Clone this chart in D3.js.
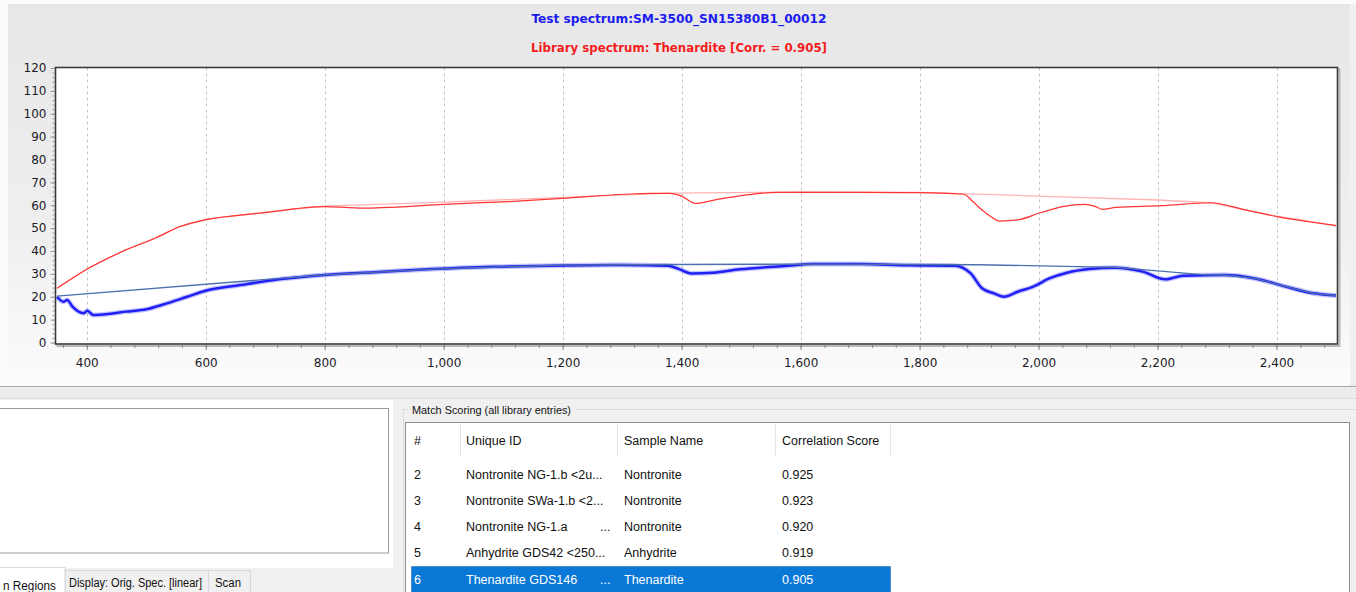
<!DOCTYPE html>
<html>
<head>
<meta charset="utf-8">
<script src="https://cdn.jsdelivr.net/npm/d3@7/dist/d3.min.js"></script>
<style>
  html, body { margin: 0; padding: 0; background: #f0f0f0; }
  svg { display: block; }
</style>
</head>
<body>
<svg id="chart" width="1356" height="592"></svg>
<script>
// ---------- DATA ----------
const titleTest = "Test spectrum:SM-3500_SN15380B1_00012";
const titleLib = "Library spectrum: Thenardite [Corr. = 0.905]";

// test spectrum (blue, thick)
const testX = [350,361,367,376,395,401,411,440,466,500,530,569,601,658,723,800,884,981,1085,1207,1300,1376,1395,1416,1453,1498,1573,1620,1700,1780,1859,1886,1905,1925,1942,1965,1991,2018,2048,2085,2128,2175,2213,2243,2311,2364,2416,2462,2500];
const testY = [20,17.8,18.6,15.7,12.8,13.9,12,12.6,13.5,14.5,16.7,20,22.7,25.1,27.6,29.5,30.7,32.1,33.1,33.7,33.9,33.6,32.2,30.2,30.5,32,33.4,34.3,34.3,33.8,33.6,30.2,23.7,21.5,20,22.2,24.4,28,30.5,32.1,32.7,31,27.6,29.2,29.5,28,24.4,21.5,20.5];
// test continuum hull (thin steel blue)
const testHullX = [350,800,1000,1200,1376,1650,1900,2130,2280,2311,2364,2416,2462,2500];
const testHullY = [20.3,29.6,32.3,33.8,34.1,34.3,34.0,32.8,29.6,29.5,28,24.4,21.5,20.5];
// library spectrum (red)
const libX = [350,398,459,517,556,599,691,800,840,872,920,1000,1110,1201,1304,1348,1380,1400,1423,1460,1521,1560,1700,1800,1874,1890,1905,1920,1935,1965,2003,2040,2078,2095,2108,2130,2206,2288,2349,2401,2454,2500];
const libY = [23.7,31.7,39.7,45.8,50.6,53.6,56.5,59.4,59,58.7,59.2,60.4,61.6,63,64.8,65.2,65.2,64,60.8,62.6,64.9,65.6,65.6,65.5,64.8,61.5,57.9,55,53.1,53.6,56.7,59.4,60.4,59.5,58.2,59.1,59.8,61.1,57.9,55,52.8,51.1];
// library continuum hull (light pink)
const libHullX = [350,398,459,517,556,599,691,800,1000,1200,1380,1600,1800,2000,2200,2288,2349,2401,2454,2500];
const libHullY = [23.7,31.8,39.8,46,50.8,53.8,56.8,59.6,61.4,63.4,65.3,65.8,65.6,64,62.3,61.1,57.9,55.2,53,51.1];

const xMajorTicks = [400,600,800,1000,1200,1400,1600,1800,2000,2200,2400];
const yMajorTicks = [0,10,20,30,40,50,60,70,80,90,100,110,120];

// match scoring table
const tableHeaders = ["#", "Unique ID", "Sample Name", "Correlation Score"];
const ranks = ["2","3","4","5","6"];
const uniqueIds = ["Nontronite NG-1.b <2u...", "Nontronite SWa-1.b  <2...", "Nontronite NG-1.a", "Anhydrite GDS42 <250...", "Thenardite GDS146"];
const idTrail = ["", "", "...", "", "..."];
const sampleNames = ["Nontronite","Nontronite","Nontronite","Anhydrite","Thenardite"];
const scores = ["0.925","0.923","0.920","0.919","0.905"];
const selectedRow = 4;
const tabLabels = ["n Regions", "Display: Orig. Spec. [linear]", "Scan"];

// ---------- DRAW ----------
const svg = d3.select("#chart");
const defs = svg.append("defs");
const grad = defs.append("linearGradient").attr("id","panelGrad").attr("x1",0).attr("y1",0).attr("x2",0).attr("y2",1);
grad.append("stop").attr("offset","0%").attr("stop-color","#e7e7e7");
grad.append("stop").attr("offset","60%").attr("stop-color","#efefef");
grad.append("stop").attr("offset","100%").attr("stop-color","#fcfcfc");

// page background
svg.append("rect").attr("x",0).attr("y",0).attr("width",1356).attr("height",592).attr("fill","#f0f0f0");
svg.append("rect").attr("x",0).attr("y",0).attr("width",1356).attr("height",4).attr("fill","#fbfbfb");
svg.append("rect").attr("x",0).attr("y",0).attr("width",8).attr("height",386).attr("fill","#fbfbfb");
// chart panel
svg.append("rect").attr("x",8).attr("y",4).attr("width",1342).attr("height",382).attr("fill","url(#panelGrad)");
svg.append("line").attr("x1",0).attr("x2",1356).attr("y1",386.5).attr("y2",386.5).attr("stroke","#a8a8a8");
svg.append("rect").attr("x",0).attr("y",387).attr("width",1356).attr("height",11).attr("fill","#ececec");
svg.append("line").attr("x1",0).attr("x2",1356).attr("y1",398.5).attr("y2",398.5).attr("stroke","#dcdcdc");

const x = d3.scaleLinear().domain([350,2500]).range([57,1336]);
const y = d3.scaleLinear().domain([0,120]).range([342.5,68]);

// titles
svg.append("text").attr("x",679).attr("y",23).attr("text-anchor","middle")
  .attr("font-family","DejaVu Sans Condensed, DejaVu Sans").attr("font-weight","bold").attr("font-size",13)
  .attr("fill","#1c1cf0").attr("textLength",295).attr("lengthAdjust","spacingAndGlyphs").text(titleTest);
svg.append("text").attr("x",679).attr("y",52).attr("text-anchor","middle")
  .attr("font-family","DejaVu Sans Condensed, DejaVu Sans").attr("font-weight","bold").attr("font-size",13)
  .attr("fill","#f41c1c").attr("textLength",296).attr("lengthAdjust","spacingAndGlyphs").text(titleLib);

// plot background + shadow
const px0 = 55.5, px1 = 1337.5, py0 = 67.5, py1 = 344;
svg.append("rect").attr("x",px0+2).attr("y",py0+2).attr("width",px1-px0).attr("height",py1-py0)
  .attr("fill","none").attr("stroke","#b8b8b8").attr("stroke-width",2);
svg.append("rect").attr("x",px0).attr("y",py0).attr("width",px1-px0).attr("height",py1-py0).attr("fill","#ffffff");

// gridlines (vertical dashed)
svg.append("g").selectAll("line").data(xMajorTicks).join("line")
  .attr("x1",d=>Math.round(x(d))+0.5).attr("x2",d=>Math.round(x(d))+0.5)
  .attr("y1",py0).attr("y2",py1)
  .attr("stroke","#c4c4c4").attr("stroke-dasharray","3,3");

// axes
const xMinor = d3.range(360,2500,40);
const xAxisMinor = d3.axisBottom(x).tickValues(xMinor).tickSize(3).tickFormat("");
const xAxisMajor = d3.axisBottom(x).tickValues(xMajorTicks).tickSize(5).tickFormat(d3.format(","));
const gxm = svg.append("g").attr("transform",`translate(0,${py1+1})`).call(xAxisMinor);
const gx = svg.append("g").attr("transform",`translate(0,${py1+1})`).call(xAxisMajor);
[gxm,gx].forEach(g=>{ g.select(".domain").remove(); g.selectAll("line").attr("stroke","#888"); });
gx.selectAll("text").attr("font-family","DejaVu Sans").attr("font-size",12).attr("fill","#1a1a28").attr("dy","1.15em");

const yMinor = d3.range(0,121,2);
const yAxisMinor = d3.axisLeft(y).tickValues(yMinor).tickSize(2).tickFormat("");
const yAxisMajor = d3.axisLeft(y).tickValues(yMajorTicks).tickSize(4).tickFormat(d3.format("d"));
const gym = svg.append("g").attr("transform",`translate(${px0-1},0)`).call(yAxisMinor);
const gy = svg.append("g").attr("transform",`translate(${px0-1},0)`).call(yAxisMajor);
[gym,gy].forEach(g=>{ g.select(".domain").remove(); g.selectAll("line").attr("stroke","#999"); });
gy.selectAll("text").attr("font-family","DejaVu Sans").attr("font-size",12).attr("fill","#1a1a28").attr("x",-8);

// lines
const line = d3.line().x(d=>x(d[0])).y(d=>y(d[1]));
const smooth = d3.line().x(d=>x(d[0])).y(d=>y(d[1])).curve(d3.curveMonotoneX);
const zip = (a,b)=>a.map((v,i)=>[v,b[i]]);

svg.append("path").datum(zip(libHullX,libHullY)).attr("d",line).attr("fill","none").attr("stroke","#ffb4b4").attr("stroke-width",1.3);
svg.append("path").datum(zip(libX,libY)).attr("d",smooth).attr("fill","none").attr("stroke","#ff3434").attr("stroke-width",1.2);
svg.append("path").datum(zip(testX,testY)).attr("d",smooth).attr("fill","none").attr("stroke","rgba(90,90,255,0.35)").attr("stroke-width",5).attr("stroke-linejoin","round");
svg.append("path").datum(zip(testX,testY)).attr("d",smooth).attr("fill","none").attr("stroke","#2020f4").attr("stroke-width",2.5).attr("stroke-linejoin","round");
svg.append("path").datum(zip(testHullX,testHullY)).attr("d",line).attr("fill","none").attr("stroke","#4b70ad").attr("stroke-width",1.3);

// frame
svg.append("rect").attr("x",px0).attr("y",py0).attr("width",px1-px0).attr("height",py1-py0)
  .attr("fill","none").attr("stroke","#3a3a3a").attr("stroke-width",1.6);

// ---------- bottom left panel ----------
svg.append("rect").attr("x",0).attr("y",400).attr("width",393).attr("height",168).attr("fill","#ffffff");
svg.append("rect").attr("x",-1).attr("y",408.5).attr("width",389.5).attr("height",144.5).attr("fill","#ffffff").attr("stroke","#9a9a9a");

// tabs
const tabX = [0,65,208], tabW = [65,143,42];
const tabs = svg.append("g");
tabLabels.forEach((t,i)=>{
  if (i===0) {
    tabs.append("rect").attr("x",tabX[i]-1).attr("y",567.5).attr("width",tabW[i]+1).attr("height",26).attr("fill","#ffffff").attr("stroke","#d9d9d9");
  } else {
    tabs.append("rect").attr("x",tabX[i]+0.5).attr("y",570.5).attr("width",tabW[i]).attr("height",24).attr("fill","#f0f0f0").attr("stroke","#d9d9d9");
  }
});
const tabTextX = [3,69,215], tabTextLen = [53,133,26];
tabLabels.forEach((t,i)=>{
  tabs.append("text").attr("x",tabTextX[i]).attr("y",i===0?590:587).attr("font-family","Liberation Sans, Arial").attr("font-size",12)
    .attr("fill","#111").attr("textLength",tabTextLen[i]).attr("lengthAdjust","spacingAndGlyphs").text(t);
});

// ---------- Match scoring group ----------
const grp = svg.append("g");
grp.append("path").attr("d","M1356,409.5 H403.5 V592").attr("fill","none").attr("stroke","#dcdcdc");
grp.append("rect").attr("x",408).attr("y",402).attr("width",168).attr("height",14).attr("fill","#f0f0f0");
grp.append("text").attr("x",412).attr("y",414).attr("font-family","Liberation Sans, Arial").attr("font-size",11.5)
  .attr("fill","#111").attr("textLength",159).attr("lengthAdjust","spacingAndGlyphs").text("Match Scoring (all library entries)");
// list box
grp.append("rect").attr("x",405.5).attr("y",422.5).attr("width",944).attr("height",180).attr("fill","#ffffff").attr("stroke","#8a8f99");

const colX = [414, 466, 624, 782];
const sepX = [460, 617, 775, 890];
grp.selectAll(".sep").data(sepX).join("line").attr("class","sep")
  .attr("x1",d=>d+0.5).attr("x2",d=>d+0.5).attr("y1",424).attr("y2",456).attr("stroke","#e5e5e5");
grp.selectAll(".hdr").data(tableHeaders).join("text").attr("class","hdr")
  .attr("x",(d,i)=>colX[i]).attr("y",445).attr("font-family","Liberation Sans, Arial").attr("font-size",12.5).attr("fill","#111").text(d=>d);

const rowY = d3.scaleLinear().domain([0,4]).range([474.5,579]);
// selection highlight
grp.append("rect").attr("x",411.5).attr("y",rowY(selectedRow)-12.5).attr("width",479).attr("height",26)
  .attr("fill","#0a78d7").attr("stroke","#1a5faa").attr("stroke-dasharray","1,1");

ranks.forEach((r,i)=>{
  const col = i===selectedRow ? "#ffffff" : "#111";
  const cells = [r, uniqueIds[i], sampleNames[i], scores[i]];
  cells.forEach((c,j)=>{
    grp.append("text").attr("x",colX[j]).attr("y",rowY(i)+4.5).attr("font-family","Liberation Sans, Arial")
      .attr("font-size",12.5).attr("fill",col).text(c);
  });
  if (idTrail[i]) {
    grp.append("text").attr("x",600).attr("y",rowY(i)+4.5).attr("font-family","Liberation Sans, Arial")
      .attr("font-size",12.5).attr("fill",col).text(idTrail[i]);
  }
});
</script>
</body>
</html>
